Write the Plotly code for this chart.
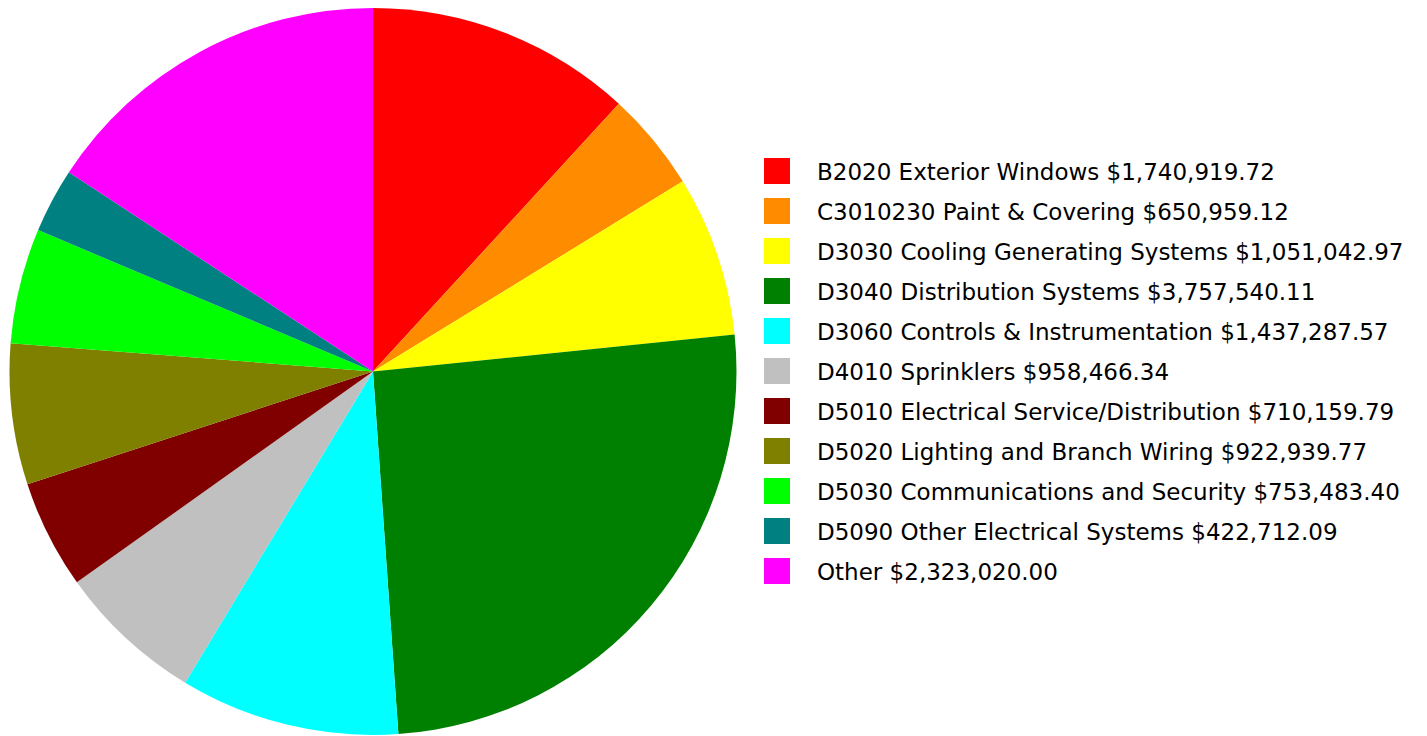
import plotly.graph_objects as go

categories = [
    "B2020 Exterior Windows",
    "C3010230 Paint & Covering",
    "D3030 Cooling Generating Systems",
    "D3040 Distribution Systems",
    "D3060 Controls & Instrumentation",
    "D4010 Sprinklers",
    "D5010 Electrical Service/Distribution",
    "D5020 Lighting and Branch Wiring",
    "D5030 Communications and Security",
    "D5090 Other Electrical Systems",
    "Other",
]
costs = [
    1740919.72, 650959.12, 1051042.97, 3757540.11, 1437287.57, 958466.34,
    710159.79, 922939.77, 753483.40, 422712.09, 2323020.00,
]
colors = [
    "#FF0000", "#FF8C00", "#FFFF00", "#008000", "#00FFFF", "#C0C0C0",
    "#800000", "#808000", "#00FF00", "#008080", "#FF00FF",
]

W, H = 1427, 736
labels = [f"{c} ${v:,.2f}" for c, v in zip(categories, costs)]

fig = go.Figure(
    go.Pie(
        labels=labels,
        values=costs,
        marker=dict(colors=colors, line=dict(width=0)),
        sort=False,
        direction="clockwise",
        rotation=0,
        textinfo="none",
        hoverinfo="label+percent",
        showlegend=False,
        domain=dict(x=[8 / W, 738 / W], y=[1 / H, 1 - 8 / H]),
    )
)

# Legend: colour swatch plus label per row
x_sw0, x_sw1, x_txt = 764, 790, 815
y_first, row_gap, sw = 171, 40, 26
shapes, annotations = [], []
for i, (lab, col) in enumerate(zip(labels, colors)):
    cy = y_first + i * row_gap
    shapes.append(dict(
        type="rect", xref="paper", yref="paper",
        x0=x_sw0 / W, x1=x_sw1 / W,
        y0=1 - (cy - sw / 2) / H, y1=1 - (cy + sw / 2) / H,
        fillcolor=col, line=dict(width=0),
    ))
    annotations.append(dict(
        text=lab, xref="paper", yref="paper",
        x=x_txt / W, y=1 - (cy + 1) / H, xanchor="left", yanchor="middle",
        showarrow=False, font=dict(family="DejaVu Sans", size=23, color="#000000"),
    ))

fig.update_layout(
    width=W, height=H,
    margin=dict(l=0, r=0, t=0, b=0),
    paper_bgcolor="white",
    plot_bgcolor="white",
    shapes=shapes,
    annotations=annotations,
)

fig.write_html("out.html")
